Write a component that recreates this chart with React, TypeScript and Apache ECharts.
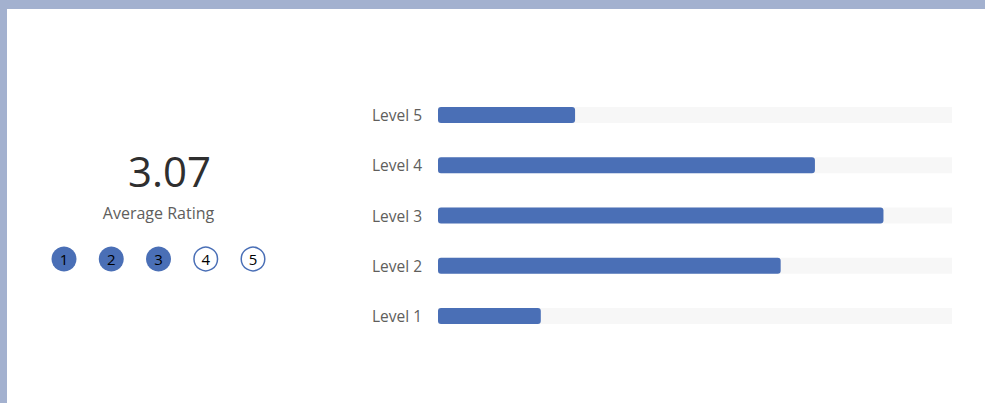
import React, { useEffect, useRef } from "react";
import * as echarts from "echarts";

const categories = ["Level 1", "Level 2", "Level 3", "Level 4", "Level 5"];
const counts = [6, 20, 26, 22, 8];
const axisMax = 30;
const ratingLevels = [1, 2, 3, 4, 5];

const BLUE = "#4a6fb6";
const FONT = "'Open Sans', 'Noto Sans', sans-serif";

export default function App() {
  const ref = useRef<HTMLDivElement>(null);

  useEffect(() => {
    if (!ref.current) return;
    const chart = echarts.init(ref.current, null, { renderer: "svg" });

    const total = counts.reduce((a, b) => a + b, 0);
    const weighted = counts.reduce((a, c, i) => a + c * (i + 1), 0);
    const avg = weighted / total;
    const filledUpTo = Math.round(avg);

    const circleX0 = 64;
    const circleStep = 47.25;
    const circleY = 259;

    const circles: any[] = [];
    ratingLevels.forEach((lvl, i) => {
      const cx = circleX0 + i * circleStep;
      const filled = lvl <= filledUpTo;
      circles.push({
        type: "circle",
        shape: { cx, cy: circleY, r: filled ? 12.5 : 11.8 },
        style: filled
          ? { fill: BLUE }
          : { fill: "#ffffff", stroke: BLUE, lineWidth: 1.5 },
      });
      circles.push({
        type: "text",
        x: cx,
        y: circleY,
        style: {
          text: String(lvl),
          fill: "#000000",
          font: `15px ${FONT}`,
          align: "center",
          verticalAlign: "middle",
        },
      });
    });

    chart.setOption({
      animation: false,
      backgroundColor: "#a3b1cf",
      graphic: [
        {
          type: "rect",
          z: -10,
          shape: { x: 7, y: 9, width: 985, height: 403 },
          style: { fill: "#ffffff" },
        },
        {
          type: "text",
          x: 169.5,
          y: 170,
          style: {
            text: avg.toFixed(2),
            fill: "#2f2f2f",
            font: `42px ${FONT}`,
            align: "center",
            verticalAlign: "middle",
          },
        },
        {
          type: "text",
          x: 158.5,
          y: 213,
          style: {
            text: "Average Rating",
            fill: "#605e5c",
            font: `16px ${FONT}`,
            align: "center",
            verticalAlign: "middle",
          },
        },
        ...circles,
      ],
      grid: { left: 438, right: 33, top: 90, height: 251, containLabel: false },
      xAxis: {
        type: "value",
        min: 0,
        max: axisMax,
        show: false,
      },
      yAxis: {
        type: "category",
        data: categories,
        axisLine: { show: false },
        axisTick: { show: false },
        splitLine: { show: false },
        axisLabel: {
          color: "#605e5c",
          fontSize: 15.5,
          fontFamily: FONT,
          margin: 16,
        },
      },
      series: [
        {
          type: "bar",
          data: counts,
          barWidth: 16,
          showBackground: true,
          backgroundStyle: { color: "#f7f7f7" },
          itemStyle: { color: BLUE, borderRadius: 3 },
        },
      ],
    });

    return () => chart.dispose();
  }, []);

  return (
    <div
      ref={ref}
      style={{ position: "fixed", left: 0, top: 0, width: 985, height: 403 }}
    />
  );
}
